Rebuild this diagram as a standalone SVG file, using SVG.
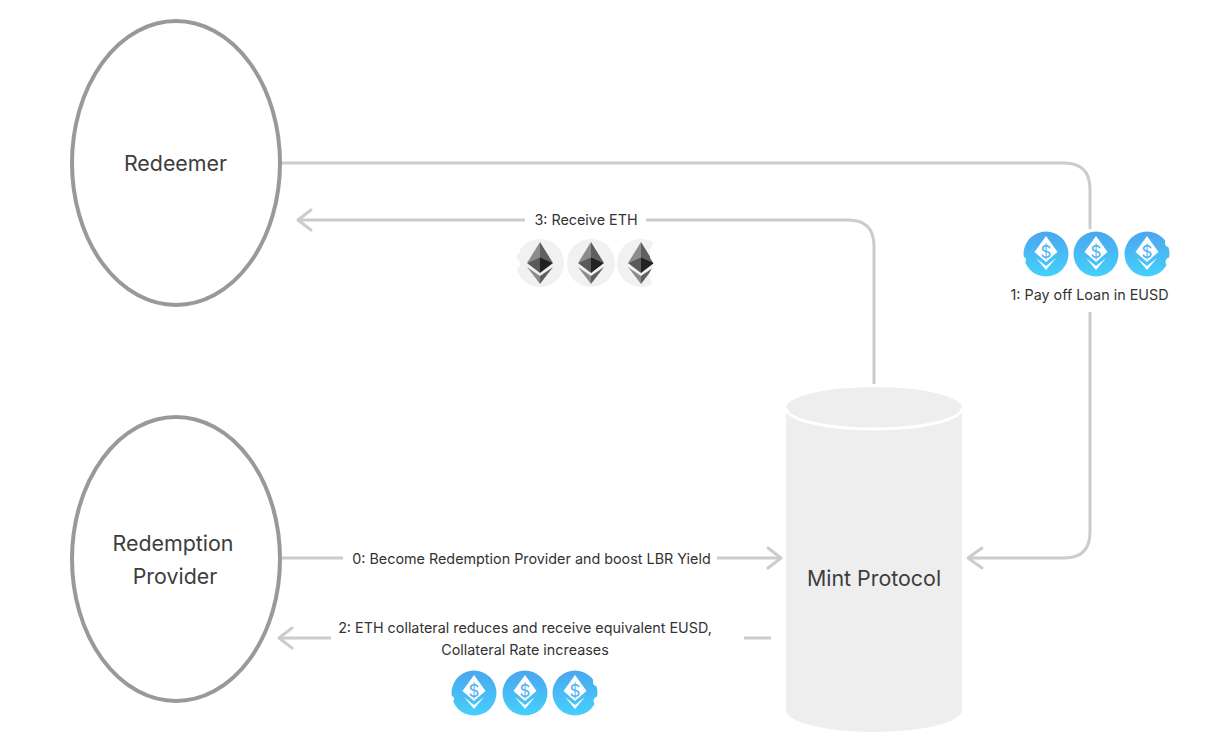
<svg xmlns="http://www.w3.org/2000/svg" width="1213" height="754" viewBox="0 0 1213 754">
<style>
text{font-family:Inter,"Liberation Sans",sans-serif;text-anchor:middle}
.lbl{font-size:14.35px;fill:#333}
.node{font-size:21.4px;fill:#3d3d3d}
.el{fill:#fff;stroke:#999;stroke-width:4}
.cn{fill:none;stroke:#ccc;stroke-width:3}
.ar{fill:none;stroke:#ccc;stroke-width:3;stroke-linecap:round;stroke-linejoin:round}
.dollar{font-size:17px;fill:#4fb2f3}
</style>
<defs>
<linearGradient id="g" x1="0" y1="0" x2="0" y2="1"><stop offset="0" stop-color="#4ba6ef"/><stop offset="1" stop-color="#44d0fb"/></linearGradient>
<g id="coin">
<circle r="22.5" fill="url(#g)"/>
<path d="M0-18 L11.5-2 L0 8 L-11.5-2Z" fill="#fff"/>
<path d="M-10 4 L0 12 L10 4 L0 16Z" fill="#fff"/>
</g>
<g id="eth">
<circle r="24" fill="#f1f1f1"/>
<path d="M0-21 L-13 0 L0-6Z" fill="#8c8c8c"/>
<path d="M0-21 L13 0 L0-6Z" fill="#5f5f5f"/>
<path d="M-13 0 L0-6 L0 10Z" fill="#5a5a5a"/>
<path d="M13 0 L0-6 L0 10Z" fill="#222"/>
<path d="M-13 4 L0 13 L0 21Z" fill="#8c8c8c"/>
<path d="M13 4 L0 13 L0 21Z" fill="#5f5f5f"/>
</g>
</defs>
<rect width="1213" height="754" fill="#fff"/>
<g id="connectors">
<path class="cn" d="M282 163 H1064 Q1090 163 1090 189 V229"/>
<path class="cn" d="M1090 312 V532 Q1090 558 1064 558 H968"/>
<path class="ar" d="M982 548 L968 558 L982 568"/>
<path class="cn" d="M874 384 V246 Q874 220 848 220 H646"/>
<path class="cn" d="M525 220 H298"/>
<path class="ar" d="M311 210 L298 220 L311 230"/>
<path class="cn" d="M282 558 H343"/>
<path class="cn" d="M717 558 H780"/>
<path class="ar" d="M768 548 L781 558 L768 568"/>
<path class="cn" d="M331 638 H279"/>
<path class="ar" d="M292 628 L279 638 L292 648"/>
<path class="cn" d="M744 638 H771"/>
</g>
<g id="redeemer">
<ellipse class="el" cx="176" cy="163" rx="104" ry="142"/>
<text class="node" x="175.500" y="171">Redeemer</text>
</g>
<g id="redemption-provider">
<ellipse class="el" cx="176" cy="559" rx="104" ry="142"/>
<text class="node" x="173" y="551">Redemption</text>
<text class="node" x="175" y="584">Provider</text>
</g>
<g id="mint-protocol">
<path d="M786 408 V710 A88 22 0 0 0 962 710 V408Z" fill="#eee"/>
<ellipse cx="874" cy="408" rx="88" ry="21" fill="#eee"/>
<path d="M786 408 A88 21 0 0 0 962 408" fill="none" stroke="#fff" stroke-width="3"/>
<text class="node" x="874" y="586">Mint Protocol</text>
</g>
<g id="label-3">
<text class="lbl" x="586" y="225">3: Receive ETH</text>
<use href="#eth" x="540" y="263"/><use href="#eth" x="591" y="263"/><use href="#eth" x="641" y="263"/>
<circle cx="515" cy="264" r="5" fill="#fff"/><circle cx="517" cy="251" r="3" fill="#fff"/>
<rect x="654" y="236" width="12" height="54" fill="#fff"/>
<path d="M655 240 L650 250 L650 258 L654 264 L649 274 L652 284 L655 284Z" fill="#fff"/>
</g>
<g id="label-1">
<use href="#coin" x="1046" y="254"/><use href="#coin" x="1096" y="254"/><use href="#coin" x="1147" y="254"/>
<text class="dollar" x="1046" y="258">$</text><text class="dollar" x="1096" y="258">$</text><text class="dollar" x="1147" y="258">$</text>
<circle cx="1023" cy="260" r="3" fill="#fff"/><circle cx="1169" cy="243" r="4" fill="#fff"/><circle cx="1170" cy="262" r="4.500" fill="#fff"/>
<text class="lbl" x="1089.500" y="300">1: Pay off Loan in EUSD</text>
</g>
<g id="label-0">
<text class="lbl" x="531.500" y="564">0: Become Redemption Provider and boost LBR Yield</text>
</g>
<g id="label-2">
<text class="lbl" x="525" y="633">2: ETH collateral reduces and receive equivalent EUSD,</text>
<text class="lbl" x="525" y="655">Collateral Rate increases</text>
<use href="#coin" x="474" y="693"/><use href="#coin" x="525" y="693"/><use href="#coin" x="575" y="693"/>
<text class="dollar" x="474" y="697">$</text><text class="dollar" x="525" y="697">$</text><text class="dollar" x="575" y="697">$</text>
<circle cx="451" cy="699" r="3" fill="#fff"/><circle cx="597" cy="682" r="4" fill="#fff"/><circle cx="598" cy="701" r="4.500" fill="#fff"/>
</g>
</svg>
